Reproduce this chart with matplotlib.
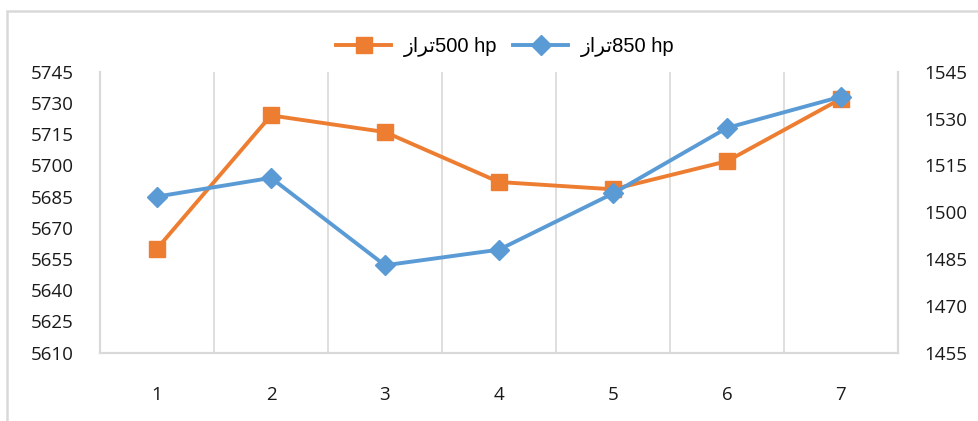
import matplotlib
matplotlib.use("Agg")
import matplotlib.pyplot as plt
from matplotlib.patches import Rectangle
from matplotlib.lines import Line2D

categories = [1, 2, 3, 4, 5, 6, 7]
series_500 = [5660, 5724, 5716, 5692, 5688.5, 5702, 5732]
series_850 = [1505, 1511, 1483, 1488, 1506, 1527, 1537]
left_ticks = [5610, 5625, 5640, 5655, 5670, 5685, 5700, 5715, 5730, 5745]
right_ticks = [1455, 1470, 1485, 1500, 1515, 1530, 1545]
label_500 = "\u0632\u0627\ufeae\ufe97500 hp"
label_850 = "\u0632\u0627\ufeae\ufe97850 hp"

ORANGE = "#ED7D31"
BLUE = "#5B9BD5"
GRID = "#D9D9D9"

W, H = 979, 421
fig = plt.figure(figsize=(W / 100, H / 100), dpi=100)
fig.patch.set_facecolor("white")

# outer chart frame
fig.add_artist(Rectangle((7.5 / W, -0.1), 1.2, (H - 11.0) / H + 0.1,
                         transform=fig.transFigure, fill=False,
                         edgecolor=GRID, linewidth=1.8))

left, right = 100 / W, 898 / W
bottom, top = (H - 352.7) / H, (H - 71.7) / H
ax = fig.add_axes([left, bottom, right - left, top - bottom])
ax2 = ax.twinx()

ax.plot(categories, series_500, color=ORANGE, lw=2.8, marker="s",
        markersize=12, zorder=3, solid_joinstyle="round")
ax2.plot(categories, series_850, color=BLUE, lw=2.8, marker="D",
         markersize=10, zorder=4, solid_joinstyle="round")

ax.set_xlim(0.5, 7.5)
ax.set_ylim(5610, 5745)
ax2.set_ylim(1455, 1545)
ax.set_yticks(left_ticks)
ax2.set_yticks(right_ticks)
ax.set_xticks(categories)
ax.set_xticks([c + 0.5 for c in categories[:-1]], minor=True)
ax.grid(True, which="minor", axis="x", color=GRID, lw=1.2)
ax.grid(False, which="major")

for a in (ax, ax2):
    a.spines["top"].set_visible(False)
    for s in ("left", "right", "bottom"):
        a.spines[s].set_color(GRID)
        a.spines[s].set_linewidth(1.5)
    a.tick_params(which="both", length=0)

ax.tick_params(axis="y", pad=19)
ax2.tick_params(axis="y", pad=19)
ax.tick_params(axis="x", pad=24)
for lab in ax.get_xticklabels() + ax.get_yticklabels() + ax2.get_yticklabels():
    lab.set_fontfamily("Open Sans")
    lab.set_fontsize(13.5)
    lab.set_color("#1a1a1a")

handles = [
    Line2D([], [], color=ORANGE, lw=2.8, marker="s", markersize=12),
    Line2D([], [], color=BLUE, lw=2.8, marker="D", markersize=10),
]
fig.legend(handles, [label_500, label_850], loc="center",
           bbox_to_anchor=(505 / W, 1 - 47 / H), ncol=2, frameon=False,
           prop=dict(family=["Liberation Sans", "DejaVu Sans"], size=14.5),
           handlelength=2.75, handletextpad=0.6, columnspacing=0.8)

fig.savefig("out.png", dpi=100, facecolor="white")
